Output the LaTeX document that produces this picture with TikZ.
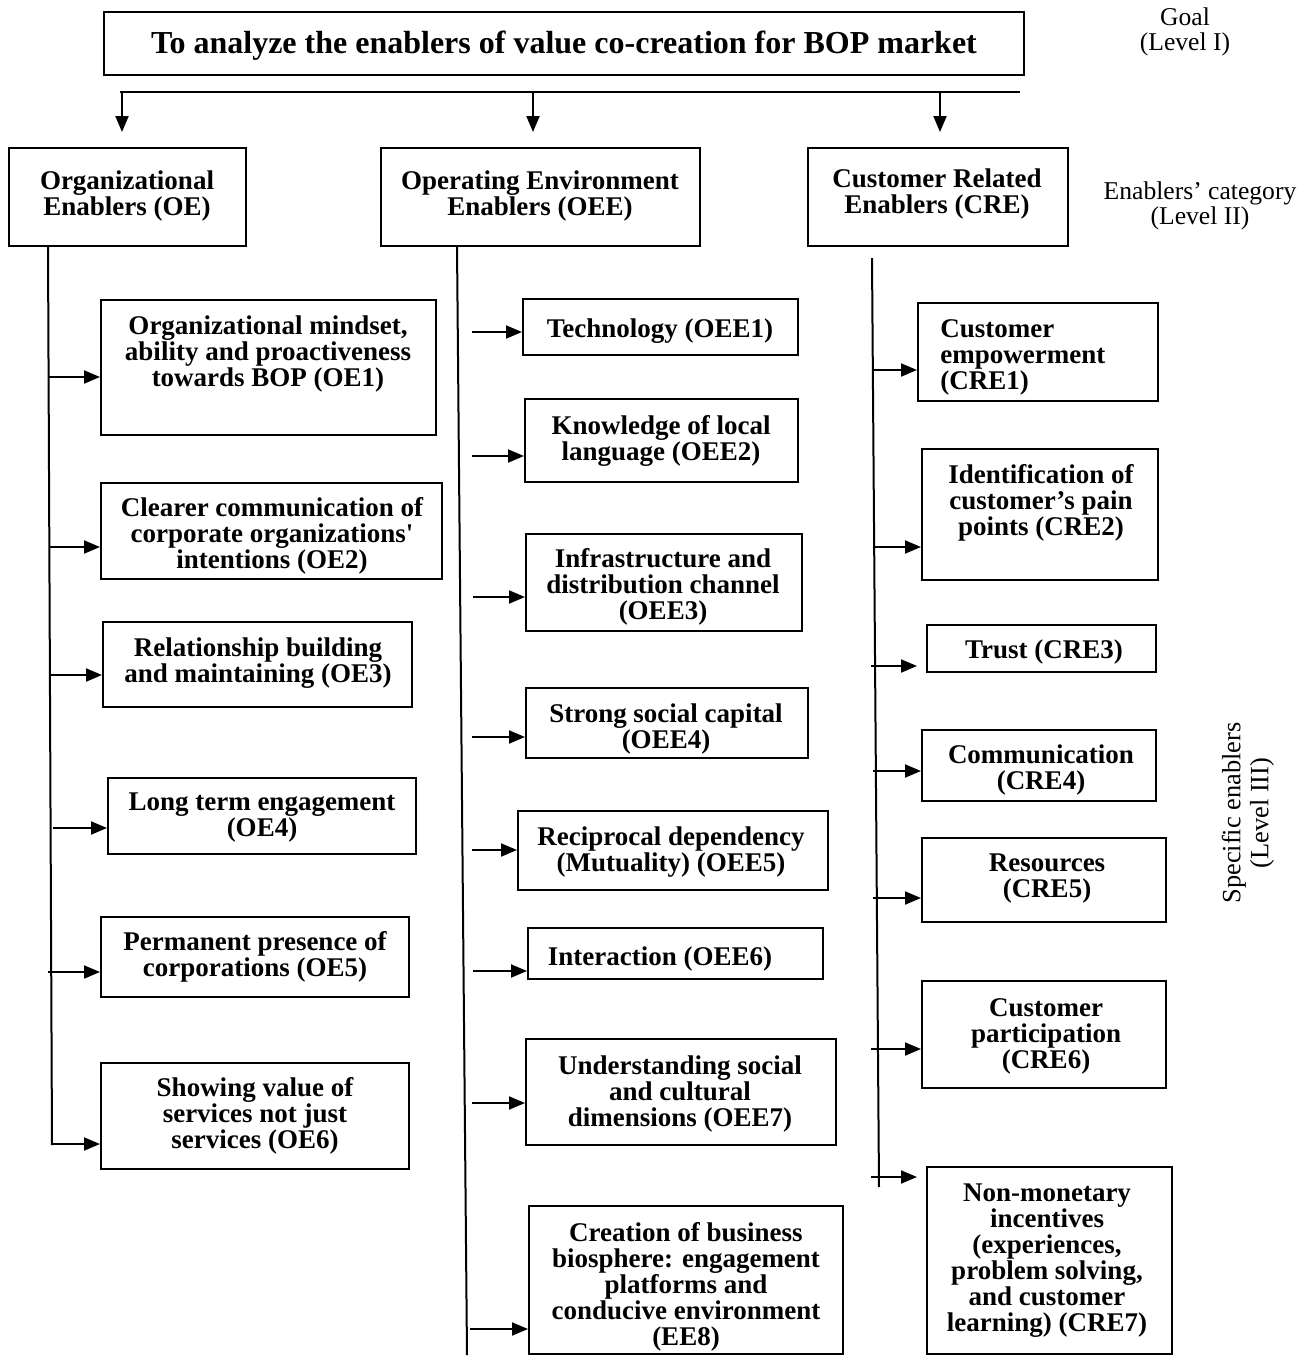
\documentclass[tikz,border=0pt]{standalone}
\usepackage{fontspec}
\setmainfont{Liberation Serif}
\usetikzlibrary{arrows.meta,fit}
\newcommand\enbody{\fontsize{13.5}{13}\selectfont\bfseries\lineskiplimit=-100pt\relax}
\newcommand\entitle{\fontsize{16}{18}\selectfont\bfseries}
\newcommand\enlevel{\fontsize{12.8}{11}\selectfont}
\newcommand\enlevelwide{\fontsize{13.2}{14}\selectfont\lineskiplimit=-100pt\relax}

\begin{document}
\begin{tikzpicture}[x=0.5pt,y=-0.5pt,
  box/.style={draw,line width=1pt,inner sep=0pt},
  txt/.style={font=\enbody,align=center,inner sep=0pt,yshift=-1.5pt},
  lvl/.style={font=\enlevel,inner sep=0pt,anchor=base,text height=8pt,text depth=1pt},
  spine/.style={line width=1pt},
  arr/.style={line width=1pt,-{Triangle[length=8pt,width=6.5pt]}}]
\useasboundingbox (0,0) rectangle (1309,1356);

% ---------- Level I: goal ----------
\node[box,fit={(104,12)(1024,75)}] (goal) {};
\node[font=\entitle,inner sep=0pt,yshift=-1.5pt] (goalt) at (564,43)
  {To analyze the enablers of value co-creation for BOP market};
\node[lvl] (lvonea) at (1185,25) {Goal};
\node[lvl] (lvoneb) at (1185,50) {(Level I)};

% distribution bar and arrows to the categories
\coordinate (barL) at (120,92);
\coordinate (barR) at (1020,92);
\draw[spine] (barL) -- (barR);
\coordinate (tipoe)  at (122,132);
\coordinate (tipoee) at (533,132);
\coordinate (tipcre) at (940,132);
\draw[arr] (tipoe  |- barL) -- (tipoe);
\draw[arr] (tipoee |- barL) -- (tipoee);
\draw[arr] (tipcre |- barL) -- (tipcre);

% ---------- Level II: categories ----------
\node[box,fit={(9,148)(246,246)}] (oe) {};
\node[txt] (oet) at (127,193) {Organizational\\Enablers (OE)};
\node[box,fit={(381,148)(700,246)}] (oee) {};
\node[txt] (oeet) at (540,193) {Operating Environment\\Enablers (OEE)};
\node[box,fit={(808,148)(1068,246)}] (cre) {};
\node[txt] (cret) at (937,191) {Customer Related\\Enablers (CRE)};
\node[lvl] (lvtwoa) at (1200,199) {Enablers’ category};
\node[lvl] (lvtwob) at (1200,224) {(Level II)};

% ---------- Level III: organizational enablers ----------
\coordinate (oetop) at (48,246);
\coordinate (oebot) at (52,1145);
\draw[spine] (oetop) -- (oebot);

\node[box,fit={(101,300)(436,435)}] (oe1) {};
\node[txt] (oe1t) at (268,351) {Organizational mindset,\\ability and proactiveness\\towards BOP (OE1)};
\node[box,fit={(101,483)(442,579)}] (oe2) {};
\node[txt] (oe2t) at (272,533) {Clearer communication of\\corporate organizations\textquotesingle\\intentions (OE2)};
\node[box,fit={(103,622)(412,707)}] (oe3) {};
\node[txt] (oe3t) at (258,660) {Relationship building\\and maintaining (OE3)};
\node[box,fit={(108,778)(416,854)}] (oe4) {};
\node[txt] (oe4t) at (262,815) {Long term engagement\\(OE4)};
\node[box,fit={(101,917)(409,997)}] (oe5) {};
\node[txt] (oe5t) at (255,954) {Permanent presence of\\corporations (OE5)};
\node[box,fit={(101,1063)(409,1169)}] (oe6) {};
\node[txt] (oe6t) at (255,1113) {Showing value of\\services not just\\services (OE6)};

\coordinate (a1) at (49,377);
\coordinate (a2) at (49,547);
\coordinate (a3) at (51,675);
\coordinate (a4) at (53,828);
\coordinate (a5) at (48,972);
\coordinate (a6) at (52,1144);
\draw[arr] (a1) -- (oe1.west |- a1);
\draw[arr] (a2) -- (oe2.west |- a2);
\draw[arr] (a3) -- (oe3.west |- a3);
\draw[arr] (a4) -- (oe4.west |- a4);
\draw[arr] (a5) -- (oe5.west |- a5);
\draw[arr] (a6) -- (oe6.west |- a6);

% ---------- Level III: operating environment enablers ----------
\coordinate (oeetop) at (457,246);
\coordinate (oeebot) at (467,1355);
\draw[spine] (oeetop) -- (oeebot);

\node[box,fit={(523,299)(798,355)}] (oee1) {};
\node[txt] (oee1t) at (660,328) {Technology (OEE1)};
\node[box,fit={(525,399)(798,482)}] (oee2) {};
\node[txt] (oee2t) at (661,438) {Knowledge of local\\language (OEE2)};
\node[box,fit={(526,534)(802,631)}] (oee3) {};
\node[txt] (oee3t) at (663,584) {Infrastructure and\\distribution channel\\(OEE3)};
\node[box,fit={(526,688)(808,758)}] (oee4) {};
\node[txt] (oee4t) at (666,726) {Strong social capital\\(OEE4)};
\node[box,fit={(518,811)(828,890)}] (oee5) {};
\node[txt] (oee5t) at (671,849) {Reciprocal dependency\\(Mutuality) (OEE5)};
\node[box,fit={(528,928)(823,979)}] (oee6) {};
\node[txt] (oee6t) at (660,956) {Interaction (OEE6)};
\node[box,fit={(526,1039)(836,1145)}] (oee7) {};
\node[txt] (oee7t) at (680,1091) {Understanding social\\and cultural\\dimensions (OEE7)};
\node[box,fit={(529,1206)(843,1354)}] (ee8) {};
\node[txt] (ee8t) at (686,1284) {Creation of business\\biosphere: engagement\\platforms and\\conducive environment\\(EE8)};

\coordinate (b1) at (472,332);
\coordinate (b2) at (472,456);
\coordinate (b3) at (473,597);
\coordinate (b4) at (472,737);
\coordinate (b5) at (472,850);
\coordinate (b6) at (473,971);
\coordinate (b7) at (472,1103);
\coordinate (b8) at (470,1329);
\draw[arr] (b1) -- (oee1.west |- b1);
\draw[arr] (b2) -- (oee2.west |- b2);
\draw[arr] (b3) -- (oee3.west |- b3);
\draw[arr] (b4) -- (oee4.west |- b4);
\draw[arr] (b5) -- (oee5.west |- b5);
\draw[arr] (b6) -- (oee6.west |- b6);
\draw[arr] (b7) -- (oee7.west |- b7);
\draw[arr] (b8) -- (ee8.west |- b8);

% ---------- Level III: customer related enablers ----------
\coordinate (cretop) at (872,258);
\coordinate (crebot) at (879,1187);
\draw[spine] (cretop) -- (crebot);

\node[box,fit={(918,303)(1158,401)}] (cre1) {};
\node[txt,align=left,anchor=west] (cre1t) at (940,354) {Customer\\empowerment\\(CRE1)};
\node[box,fit={(922,449)(1158,580)}] (cre2) {};
\node[txt] (cre2t) at (1041,500) {Identification of\\customer’s pain\\points (CRE2)};
\node[box,fit={(927,625)(1156,672)}] (cre3) {};
\node[txt] (cre3t) at (1044,649) {Trust (CRE3)};
\node[box,fit={(922,730)(1156,801)}] (cre4) {};
\node[txt] (cre4t) at (1041,767) {Communication\\(CRE4)};
\node[box,fit={(922,838)(1166,922)}] (cre5) {};
\node[txt] (cre5t) at (1047,876) {Resources\\(CRE5)};
\node[box,fit={(922,981)(1166,1088)}] (cre6) {};
\node[txt] (cre6t) at (1046,1033) {Customer\\participation\\(CRE6)};
\node[box,fit={(927,1167)(1172,1354)}] (cre7) {};
\node[txt] (cre7t) at (1047,1258) {Non-monetary\\incentives\\(experiences,\\problem solving,\\and customer\\learning) (CRE7)};

\coordinate (c1) at (873,370);
\coordinate (c2) at (874,547);
\coordinate (c3) at (871,666);
\coordinate (c4) at (873,771);
\coordinate (c5) at (873,898);
\coordinate (c6) at (871,1049);
\coordinate (c7) at (871,1177);
\draw[arr] (c1) -- (cre1.west |- c1);
\draw[arr] (c2) -- (cre2.west |- c2);
\draw[arr,shorten >=4.5pt] (c3) -- (cre3.west |- c3);
\draw[arr] (c4) -- (cre4.west |- c4);
\draw[arr] (c5) -- (cre5.west |- c5);
\draw[arr] (c6) -- (cre6.west |- c6);
\draw[arr,shorten >=4.5pt] (c7) -- (cre7.west |- c7);

\node[font=\enlevelwide,align=center,inner sep=0pt,rotate=90] (lvthree) at (1248,813)
  {Specific enablers\\(Level III)};
\end{tikzpicture}
\end{document}
